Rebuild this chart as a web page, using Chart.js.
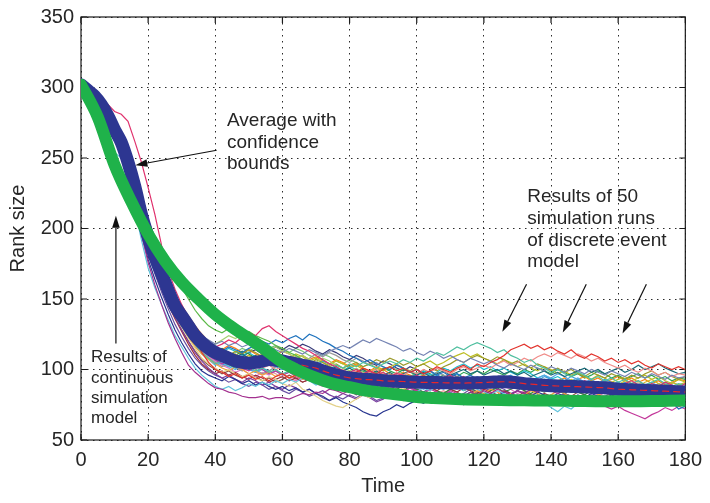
<!DOCTYPE html>
<html><head><meta charset="utf-8">
<script src="https://cdn.jsdelivr.net/npm/chart.js@4.4.0/dist/chart.umd.min.js"></script>
<style>html,body{margin:0;padding:0;background:#fff}#wrap{width:710px;height:503px}</style>
</head><body><div id="wrap"><canvas id="c" width="710" height="503"></canvas></div>
<script>
// ---------- data ----------
const time = [0,2,4,6,8,10,12,14,16,18,20,22,24,26,28,30,32,34,36,38,40,42,44,46,48,50,52,54,56,58,60,62,64,66,68,70,72,74,76,78,80,82,84,86,88,90,92,94,96,98,100,102,104,106,108,110,112,114,116,118,120,122,124,126,128,130,132,134,136,138,140,142,144,146,148,150,152,154,156,158,160,162,164,166,168,170,172,174,176,178,180];
const timeContinuous = [0,5,10,15,20,25,30,35,40,45,50,55,60,65,70,75,80,85,90,95,100,105,110,115,120,125,130,135,140,145,150,155,160,165,170,175,180];
const xTicks = [0,20,40,60,80,100,120,140,160,180];
const yTicks = [50,100,150,200,250,300,350];

const continuousModel = [302,279,245,219,196,177,162,150,139,130,122,114,105,99,94,90,87.5,85,83.5,82,80.5,79.8,79.2,78.8,78.5,78.3,78.2,78,78,77.8,77.6,77.5,77.4,77.5,77.6,77.8,78];

const average = [302,298,294,288,280,270,261,247,230,210,
194,180,168,156,145,138,131,124,119,115,
112,110,108,106,105,104.5,105,106,107,106.5,
106,105,104,103,102,101,99,97.5,96,95,
94,93.5,93,92.8,92.5,92,91.8,91.6,91.5,91.2,
91,90.9,90.8,90.7,90.6,90.5,90.5,90.4,90.5,90.6,
90.7,91,91.2,91.3,91,90.6,90,89.6,89.2,88.8,
88.5,88.3,88.1,88,87.8,87.6,87.4,87.2,87,86.5,
86,85.8,85.6,85.4,85.2,85,84.8,84.6,84.4,84.2,
84];

const run01 = [302,300,297,293,288,283,281,276,262,247,229,210,188,170,157,146,137,130,124,119,116,118,121,119,123,126,124,129,131,127,124,121,118,115,113,110,107,104,102,99,98,100,97,99,96,98,95,97,96,94,96,93,95,92,94,96,93,95,91,94,92,95,93,91,94,92,90,93,91,89,92,90,88,91,89,92,90,87,89,91,88,90,92,89,87,90,88,91,89,87,90];
const run02 = [302,297,292,284,275,266,255,238,218,196,176,160,146,133,122,112,103,98,94,90,87,86,84,83,81,80,80,81,79,80,80,79,81,83,82,84,83,86,85,83,85,82,84,81,83,80,82,79,81,78,80,82,79,81,78,80,83,81,84,82,85,83,86,84,82,85,83,86,84,87,85,83,86,88,85,87,84,86,83,85,82,84,86,83,85,87,84,86,88,85,87];
const run03 = [302,296,290,281,268,254,250,236,214,192,172,158,146,135,124,116,108,101,96,92,88,86,88,85,87,90,88,91,89,92,90,93,91,94,92,89,91,88,90,87,89,86,84,87,85,88,86,83,85,82,84,87,85,88,86,89,87,85,88,86,84,82,85,83,80,82,79,77,80,76,73,70,74,72,76,78,75,79,77,80,82,79,81,84,82,80,83,81,79,82,80];
const run04 = [302,299,295,290,282,274,265,252,236,216,198,184,170,158,148,140,131,122,112,105,100,98,95,97,94,96,93,95,92,95,97,94,96,99,97,100,98,95,97,99,96,98,101,99,97,100,102,99,101,98,100,97,99,102,100,98,101,103,100,104,102,105,107,110,114,116,118,115,117,114,116,113,111,114,110,108,111,109,106,108,105,107,104,106,103,101,104,102,100,102,100];
const run05 = [302,298,293,287,279,270,260,246,228,208,190,176,165,153,142,133,126,118,112,108,104,106,103,101,104,102,99,101,98,100,97,99,96,98,101,99,102,100,103,101,104,102,105,103,101,104,106,104,107,105,108,106,109,112,110,113,116,114,117,119,117,115,112,114,110,108,105,107,103,101,98,100,97,95,98,96,93,95,92,94,91,93,90,92,89,91,93,90,88,90,89];
const run06 = [302,299,295,289,281,272,262,249,232,213,196,183,171,160,150,142,135,128,124,121,118,120,117,119,116,118,115,113,116,114,112,115,113,111,114,112,110,113,115,117,115,118,121,119,122,120,118,116,113,115,112,110,113,111,108,110,107,105,108,106,104,106,103,101,104,102,100,103,101,99,102,100,98,101,99,97,100,98,96,99,97,95,98,96,94,97,95,93,96,94,95];
const run07 = [302,298,293,286,277,268,257,243,225,204,186,172,160,148,138,130,122,115,108,104,101,98,100,97,95,97,94,92,95,93,90,88,91,86,84,81,78,76,74,73,76,79,82,80,84,86,84,88,86,89,87,90,88,91,89,87,90,92,90,88,91,89,92,90,93,91,88,91,89,87,90,88,91,89,86,88,91,89,87,90,88,86,89,91,88,86,89,87,85,88,86];
const run08 = [302,297,291,283,273,263,251,236,217,196,178,164,151,139,128,119,111,104,99,96,94,92,95,93,90,92,89,91,88,86,88,85,87,84,86,83,81,78,80,77,75,73,70,68,67,70,72,75,73,76,78,76,79,81,78,80,83,81,84,82,80,83,81,84,82,85,83,81,84,82,80,83,81,79,82,80,83,81,79,82,80,82,79,81,78,80,82,79,81,83,81];
const run09 = [302,300,297,292,285,277,268,256,240,222,206,194,182,172,165,158,150,142,136,131,128,126,129,127,125,127,124,122,120,117,115,112,110,107,105,102,100,97,99,96,98,95,97,94,96,93,95,92,94,91,93,90,92,94,91,93,90,88,91,89,92,89,91,88,90,92,89,91,88,90,87,89,86,88,85,87,90,88,86,88,85,87,84,86,88,85,87,84,86,88,86];
const run10 = [302,298,294,288,279,270,259,245,226,206,188,174,162,150,139,131,123,116,111,107,104,101,99,102,100,97,99,96,98,95,97,94,96,93,95,92,90,93,91,89,92,90,87,89,86,88,85,83,86,84,81,79,82,80,78,81,83,80,82,85,83,86,84,81,83,80,82,85,83,80,82,85,83,80,78,81,79,82,84,81,83,81,84,82,79,81,84,82,80,83,82];
const run11 = [302,299,295,289,282,274,264,251,233,214,197,184,172,161,151,143,135,128,122,118,115,113,116,114,112,115,117,120,118,121,119,122,124,121,125,123,120,118,115,113,110,108,105,107,104,102,100,103,101,98,100,97,99,96,98,95,97,94,96,93,95,92,94,91,93,90,92,89,91,93,90,92,89,91,88,90,87,89,86,88,85,87,84,86,83,85,82,80,77,72,74];
const run12 = [302,298,294,288,280,271,261,247,229,209,191,178,166,154,144,136,128,121,116,112,108,106,104,107,105,102,104,101,103,100,102,99,101,98,100,97,99,96,98,100,97,99,96,98,100,97,95,98,96,99,97,100,98,101,99,97,100,102,99,101,103,101,104,106,103,105,108,106,109,111,109,112,110,108,111,109,106,108,105,103,101,103,100,98,101,99,96,98,95,97,96];
const run13 = [302,298,293,287,279,270,260,246,228,208,190,177,165,153,143,135,128,121,115,110,107,104,106,103,101,99,102,100,97,99,96,98,95,93,96,94,91,93,90,92,89,91,88,90,87,85,88,86,84,87,85,83,86,84,82,85,83,81,84,82,80,83,81,79,82,80,78,81,79,77,80,78,76,79,77,75,78,76,74,72,74,71,69,67,65,68,70,73,71,74,72];
const run14 = [302,299,295,289,281,273,263,250,233,213,195,182,170,159,149,141,133,126,121,117,113,110,112,109,111,108,110,107,109,106,108,105,107,104,102,105,103,100,102,99,101,98,100,97,99,96,98,95,97,99,96,98,95,97,99,96,98,100,97,99,96,98,100,97,99,96,98,95,97,99,96,98,95,97,99,101,98,100,97,99,101,98,100,103,100,102,104,101,99,97,98];
const run15 = [302,298,294,288,279,271,261,247,229,209,192,179,167,156,146,138,131,125,120,116,118,121,124,122,125,122,119,117,114,116,113,111,108,110,107,105,108,106,103,101,99,101,98,96,99,97,94,96,93,95,92,94,91,93,90,92,89,91,88,90,87,89,91,88,90,87,89,86,88,85,87,84,86,88,85,87,84,86,83,85,87,84,86,83,85,82,84,86,83,85,84];
const run16 = [302,298,293,287,278,269,258,244,225,205,187,173,160,148,137,128,120,112,106,101,97,94,96,93,91,94,92,89,91,88,86,89,87,84,86,83,85,82,80,83,81,79,82,80,77,79,82,80,78,81,79,77,80,78,76,79,77,75,78,80,78,76,79,81,78,80,77,79,82,80,78,80,83,81,78,80,82,79,81,83,81,79,82,80,83,81,79,82,80,82,80];
const run17 = [302,299,294,289,281,272,262,248,230,211,194,181,169,157,147,139,132,125,119,114,110,112,109,111,108,110,107,105,108,106,103,105,102,104,101,99,102,100,97,99,96,94,97,95,92,94,91,93,90,92,89,91,93,90,92,89,91,93,90,88,91,93,90,92,94,91,89,92,90,93,91,88,90,93,91,89,92,90,88,91,89,92,90,88,91,93,90,88,91,89,91];
const run18 = [302,298,293,286,277,268,257,242,223,203,185,171,158,146,136,127,118,110,104,100,97,99,96,98,95,93,96,94,91,93,95,92,94,91,93,95,92,94,96,93,95,93,96,94,91,93,90,92,89,91,88,90,87,85,88,86,84,87,85,83,86,84,82,85,83,81,84,82,80,83,81,79,82,80,78,81,79,82,80,78,81,79,82,80,83,81,79,82,80,83,81];
const run19 = [302,298,294,287,279,270,259,245,227,207,189,176,163,151,140,132,124,117,111,107,103,105,102,100,103,101,98,100,97,99,96,98,100,97,95,98,96,93,95,92,94,91,93,90,92,89,91,88,90,87,89,86,88,91,89,92,90,87,89,92,94,92,89,91,88,90,93,91,94,96,94,97,95,92,94,91,93,90,92,89,91,88,90,87,89,91,88,86,89,87,88];
const run20 = [302,299,294,288,280,271,261,248,230,210,193,180,168,156,146,137,130,123,118,114,111,108,110,113,111,114,112,109,111,108,110,107,109,106,104,107,105,102,104,101,103,105,102,104,107,105,108,106,103,105,102,104,101,99,102,104,107,105,108,110,108,106,109,107,104,106,103,101,104,102,99,101,98,100,97,95,98,96,94,97,95,93,96,94,97,99,96,98,95,93,95];
const run21 = [302,298,293,287,279,269,258,244,226,206,188,175,163,151,141,132,125,118,112,108,105,102,104,101,99,102,100,97,99,102,104,107,109,106,108,111,109,112,110,107,105,108,106,103,105,102,100,103,101,98,100,97,95,98,96,93,95,92,94,91,93,90,88,91,89,86,88,85,87,84,86,88,85,87,89,86,88,90,87,89,91,88,90,92,89,87,90,88,91,89,90];
const run22 = [302,298,294,288,281,272,262,249,231,212,194,181,169,158,147,139,132,126,120,116,113,115,112,110,113,111,108,110,107,105,103,106,104,101,99,102,100,97,95,93,91,89,92,90,88,86,89,87,85,88,86,84,82,85,83,86,88,85,87,84,82,85,87,84,86,88,85,83,86,84,87,85,83,86,84,82,85,83,86,88,85,83,86,84,82,85,87,84,82,85,83];
const run23 = [302,298,294,288,280,271,261,247,229,210,192,179,167,155,144,136,129,122,117,113,110,108,111,109,106,104,107,105,108,106,104,102,105,103,100,98,101,99,96,94,96,93,95,92,94,96,93,91,94,92,90,92,89,91,93,90,88,91,89,92,90,88,91,93,90,92,89,87,90,88,91,89,86,88,90,87,89,86,88,85,87,84,86,88,85,87,84,86,83,85,86];
const run24 = [302,299,295,289,280,271,260,246,227,207,190,177,165,153,142,134,127,120,114,110,107,104,102,105,103,100,98,101,99,102,100,103,101,98,100,97,95,98,96,93,95,97,94,92,95,93,96,94,91,93,95,92,94,96,93,95,97,94,92,95,93,95,92,94,96,93,91,94,92,95,93,90,92,95,93,91,88,90,93,91,89,91,88,86,89,87,90,88,86,89,87];
const run25 = [302,298,293,287,278,269,259,245,227,207,189,176,164,152,141,133,125,118,113,109,106,103,101,98,100,97,95,98,96,99,97,94,92,95,93,90,88,91,89,86,88,85,87,84,86,89,87,90,88,85,87,90,92,89,91,88,86,89,87,84,86,89,91,88,86,83,85,82,84,87,89,86,84,87,85,82,80,83,81,78,76,78,81,79,82,80,83,85,82,80,82];
const run26 = [302,299,295,289,282,273,263,250,232,212,195,182,170,159,148,140,133,127,122,118,114,112,115,113,110,112,109,107,110,108,105,107,104,102,105,103,106,104,101,99,102,100,97,99,96,98,95,93,96,94,97,99,96,98,101,99,102,104,101,103,100,102,99,101,98,96,99,97,94,96,93,95,92,90,93,91,88,90,87,89,91,88,90,87,89,86,88,91,89,86,88];
const run27 = [302,298,294,287,279,270,260,246,228,208,191,178,166,154,143,135,128,121,115,111,108,110,107,105,108,110,108,111,109,112,110,108,111,109,106,108,105,103,106,104,101,103,100,98,101,99,102,104,101,99,102,104,106,103,105,108,110,112,109,111,108,106,104,107,105,102,104,101,99,102,100,97,99,96,98,95,93,96,94,91,93,95,92,94,96,93,95,92,90,93,91];
const run28 = [302,298,293,286,277,268,257,243,224,204,186,172,159,147,137,128,120,113,107,103,100,97,99,96,94,97,95,92,94,91,93,96,94,91,93,90,92,89,87,90,88,85,87,90,88,91,89,86,84,87,85,82,84,81,83,86,84,81,79,82,80,77,79,82,80,77,75,78,76,79,82,80,83,81,84,82,79,81,84,82,85,83,80,82,85,83,81,84,86,84,85];
const run29 = [302,299,295,290,283,275,266,253,236,217,200,187,175,163,153,145,138,131,125,120,116,114,117,115,112,114,111,109,112,110,113,111,108,110,107,109,106,104,107,105,102,104,101,99,102,100,97,95,98,96,94,96,93,91,94,92,95,93,90,92,89,91,94,92,89,91,93,90,88,91,89,92,94,91,93,95,92,94,91,93,95,92,94,91,93,90,92,89,91,93,92];
const run30 = [302,298,293,286,276,267,255,240,221,200,182,168,155,143,132,123,115,108,103,99,96,94,91,93,90,88,91,89,86,88,85,83,86,84,81,83,80,78,81,79,82,80,83,81,78,80,83,85,82,84,86,84,87,85,82,84,81,83,86,84,87,85,88,86,83,85,88,86,84,87,85,88,86,84,87,85,88,86,89,87,85,88,86,89,87,85,88,86,84,87,85];
const run31 = [302,298,294,288,280,272,262,248,230,211,193,180,168,157,146,138,130,124,118,114,111,109,106,108,105,107,104,102,105,103,106,104,101,103,100,102,99,97,100,98,95,97,99,96,98,101,99,97,100,98,96,99,97,94,96,93,95,98,96,99,97,100,98,96,99,97,100,98,101,99,97,100,98,95,97,94,96,99,97,94,96,93,95,97,94,96,93,95,92,94,93];
const run32 = [302,298,294,287,279,270,259,245,227,207,190,177,165,153,143,134,126,119,113,109,105,107,104,102,99,101,98,96,99,97,94,96,93,95,92,90,93,91,88,90,87,89,86,84,87,85,82,84,81,83,86,84,81,83,85,82,80,83,81,78,80,83,81,78,80,82,79,77,80,78,81,79,76,78,75,77,80,78,75,77,79,77,80,78,81,79,76,78,81,79,78];
const run33 = [302,299,294,288,280,271,261,247,229,209,192,179,167,155,145,136,129,122,116,112,109,106,104,107,109,112,114,111,113,116,114,117,115,118,116,113,111,114,112,109,107,110,108,105,103,106,104,101,99,102,100,97,99,96,94,97,95,92,94,91,93,90,92,89,91,94,92,89,91,88,90,87,89,92,90,87,85,88,86,83,85,88,86,83,85,88,86,89,87,84,86];
const run34 = [302,298,294,288,280,271,261,248,230,210,193,180,168,156,145,137,130,123,118,114,111,113,110,112,115,113,116,118,115,117,114,112,115,113,110,108,111,109,106,104,107,105,102,104,101,99,102,100,97,95,98,96,93,95,92,94,91,93,90,92,89,91,88,90,87,89,92,90,87,89,86,88,85,87,84,86,89,87,84,86,88,85,87,84,86,83,85,88,86,83,85];

const runs = [run01,run02,run03,run04,run05,run06,run07,run08,run09,run10,run11,run12,run13,run14,run15,run16,run17,run18,run19,run20,run21,run22,run23,run24,run25,run26,run27,run28,run29,run30,run31,run32,run33,run34];
const runColors = ['#e0336e','#a3308f','#5fc3dc','#e2342d','#4fbf9f','#7584b3','#e3d18a','#27348f','#5bb947','#f3a23a','#1f73be','#f08d8a','#c3389a','#1b6b78','#a5d06f','#7c3f9f','#cdbb2d','#9e2f3b','#58a8e4','#9b9a2c','#9a9a9a','#2f8a3a','#d9534f','#3b9ad9','#e377c2','#17becf','#bcbd22','#8c564b','#ff7f0e','#6a51a3','#31a354','#e7969c','#393b79','#74c476'];

const labels = {
  yTitle: 'Rank size',
  xTitle: 'Time',
  average: ['Average with','confidence','bounds'],
  discrete: ['Results of 50','simulation runs','of discrete event','model'],
  continuous: ['Results of','continuous','simulation','model']
};

// ---------- chart ----------
const pts = (xs, ys) => xs.map((x, i) => ({x, y: ys[i]}));
const FONT = '"Liberation Sans", Arial, Helvetica, sans-serif';
const TXT = '#262626';

const datasets = [];
datasets.push({label:'Continuous model', data: pts(timeContinuous, continuousModel), borderColor:'#1fb24a', borderWidth:12, pointRadius:0, tension:0.4, cubicInterpolationMode:'monotone', borderCapStyle:'round', borderJoinStyle:'round', order:0});
datasets.push({label:'Average', data: pts(time, average), borderColor:'#e8262a', borderWidth:1.2, borderDash:[7,4], pointRadius:0, tension:0.3, order:1,
  segment:{borderColor: c => c.p0.parsed.x < 56 ? 'rgba(0,0,0,0)' : '#e8262a'}});
datasets.push({label:'Confidence bounds', data: pts(time, average), borderColor:'#2d3691', borderWidth:13, pointRadius:0, tension:0.3, borderCapStyle:'round', borderJoinStyle:'round', order:2});
runs.forEach((r, i) => datasets.push({label:'Run ' + (i+1), data: pts(time, r), borderColor: runColors[i], borderWidth:1.2, pointRadius:0, tension:0, order:3}));

function arrow(ctx, x1, y1, x2, y2) {
  const ang = Math.atan2(y2 - y1, x2 - x1);
  const L = 12, W = 3.8;
  const bx = x2 - L * Math.cos(ang), by = y2 - L * Math.sin(ang);
  ctx.beginPath(); ctx.moveTo(x1, y1); ctx.lineTo(bx, by); ctx.stroke();
  ctx.beginPath();
  ctx.moveTo(x2, y2);
  ctx.lineTo(bx + W * Math.sin(ang), by - W * Math.cos(ang));
  ctx.lineTo(bx - W * Math.sin(ang), by + W * Math.cos(ang));
  ctx.closePath(); ctx.fill();
}

const framePlugin = {
  id: 'frame',
  beforeDatasetsDraw(chart) {
    const {ctx, chartArea: a, scales: {x, y}} = chart;
    ctx.save();
    ctx.strokeStyle = '#1a1a1a'; ctx.lineWidth = 1.2;
    ctx.strokeRect(a.left, a.top, a.right - a.left, a.bottom - a.top);
    ctx.beginPath();
    xTicks.forEach(v => { const p = x.getPixelForValue(v); ctx.moveTo(p, a.bottom); ctx.lineTo(p, a.bottom - 6); ctx.moveTo(p, a.top); ctx.lineTo(p, a.top + 6); });
    yTicks.forEach(v => { const p = y.getPixelForValue(v); ctx.moveTo(a.left, p); ctx.lineTo(a.left + 6, p); ctx.moveTo(a.right, p); ctx.lineTo(a.right - 6, p); });
    ctx.stroke();
    ctx.restore();
  },
  afterDraw(chart) {
    const {ctx, scales: {x, y}} = chart;
    const X = v => x.getPixelForValue(v), Y = v => y.getPixelForValue(v);
    ctx.save();
    ctx.fillStyle = TXT; ctx.strokeStyle = '#111'; ctx.lineWidth = 1.2;
    ctx.textAlign = 'left'; ctx.textBaseline = 'alphabetic';
    ctx.font = '19px ' + FONT;
    labels.average.forEach((t, i) => ctx.fillText(t, X(43.5), Y(272.6) + i * 21.5));
    labels.discrete.forEach((t, i) => ctx.fillText(t, X(132.9), Y(218.6) + i * 21.7));
    ctx.font = '17px ' + FONT;
    labels.continuous.forEach((t, i) => ctx.fillText(t, X(3.0), Y(105.1) + i * 20.3));
    ctx.fillStyle = '#111';
    arrow(ctx, X(40.4), Y(255.5), X(16.2), Y(244.9));
    arrow(ctx, X(10.4), Y(118.4), X(10.4), Y(209.1));
    arrow(ctx, X(132.7), Y(160.4), X(125.5), Y(126.7));
    arrow(ctx, X(150.5), Y(160.4), X(143.5), Y(126.2));
    arrow(ctx, X(168.4), Y(160.4), X(161.3), Y(125.5));
    ctx.restore();
  }
};

new Chart(document.getElementById('c'), {
  type: 'line',
  data: { datasets },
  options: {
    responsive: false, animation: false, devicePixelRatio: 1,
    layout: { padding: { top: 10, right: 16, bottom: 0, left: 0 } },
    plugins: { legend: { display: false }, tooltip: { enabled: false } },
    scales: {
      x: {
        type: 'linear', min: 0, max: 180,
        afterFit: s => { s.height = 63; },
        afterBuildTicks: s => { s.ticks = xTicks.map(v => ({value: v})); },
        ticks: { padding: 8, color: TXT, font: { family: FONT, size: 20, lineHeight: 1.2 }, maxRotation: 0 },
        grid: { drawTicks: false, color: '#2a2a2a', lineWidth: 1 },
        border: { display: false, dash: [1.5, 4.5] },
        title: { display: true, text: labels.xTitle, color: TXT, font: { family: FONT, size: 20, lineHeight: 1.2 }, padding: { top: 0, bottom: 5 } }
      },
      y: {
        type: 'linear', min: 50, max: 350,
        afterFit: s => { s.width = 81; },
        afterBuildTicks: s => { s.ticks = yTicks.map(v => ({value: v})); },
        ticks: { padding: 7, color: TXT, font: { family: FONT, size: 20, lineHeight: 1.0 } },
        grid: { drawTicks: false, color: '#2a2a2a', lineWidth: 1 },
        border: { display: false, dash: [1.5, 4.5] },
        title: { display: true, text: labels.yTitle, color: TXT, font: { family: FONT, size: 20, lineHeight: 1.2 }, padding: { top: 6, bottom: 0 } }
      }
    }
  },
  plugins: [framePlugin]
});
</script>
</body></html>
